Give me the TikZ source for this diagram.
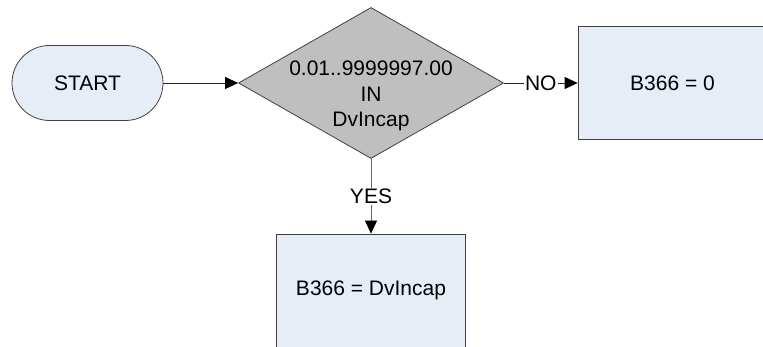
\documentclass[tikz,border=0pt]{standalone}
\usepackage{fontspec}
\setmainfont{Liberation Sans}
\usetikzlibrary{shapes.geometric,arrows.meta}
\definecolor{boxfill}{HTML}{E7EDF7}
\definecolor{decfill}{HTML}{BFBFBF}
\definecolor{edge}{HTML}{404040}
\tikzset{
  every node/.style={font=\fontsize{21}{25.5}\selectfont},
  startbox/.style={draw=edge, line width=0.8pt, fill=boxfill, rounded corners=37.5pt,
    minimum width=151pt, minimum height=75pt, inner sep=0pt},
  procbox/.style={draw=edge, line width=0.8pt, fill=boxfill,
    minimum width=189pt, minimum height=113pt, inner sep=0pt},
  decbox/.style={draw=edge, line width=0.8pt, fill=decfill, shape=diamond,
    minimum width=265pt, minimum height=151pt, inner sep=0pt},
  conn/.style={draw=black!85, line width=0.8pt, -{Triangle[length=13pt,width=12pt,color=black]}},
  lbl/.style={fill=white, inner sep=1pt}
}
\begin{document}
\begin{tikzpicture}[x=1pt,y=1pt]
\useasboundingbox (0,0) rectangle (763,347);
\node[startbox] (start) at (87.5,264) {START};
\node[decbox, label={[align=center, yshift=-13pt]center:0.01..9999997.00\\IN\\DvIncap}] (dec) at (371,264) {};
\node[procbox] (no) at (672.5,264) {B366 = 0};
\node[procbox] (yes) at (371,56.5) {B366 = DvIncap};
\draw[conn] (start.east) -- (dec.west);
\draw[conn] (dec.east) -- node[lbl] {NO} (no.west);
\draw[conn, draw=black!60] (dec.south) -- node[lbl] {YES} (yes.north);
\end{tikzpicture}
\end{document}
